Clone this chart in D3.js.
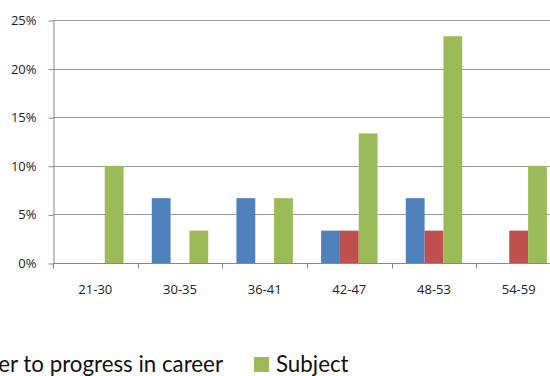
<!DOCTYPE html>
<html>
<head>
<meta charset="utf-8">
<script src="https://cdn.jsdelivr.net/npm/d3@7"></script>
<style>
  html, body { margin: 0; padding: 0; background: #fff; overflow: hidden; }
  svg { display: block; }
</style>
</head>
<body>
<svg id="chart" width="550" height="376"></svg>
<script>
// Age bands along the x axis
const categories = ["21-30", "30-35", "36-41", "42-47", "48-53", "54-59"];
// Series names and shares (percent of respondents)
const seriesNames = ["Career change", "In order to progress in career", "Subject"];
const seriesColors = ["#4F81BD", "#C0504D", "#9BBB59"];
const careerChange = [0, 6.67, 6.67, 3.33, 6.67, 0];
const progressCareer = [0, 0, 0, 3.33, 3.33, 3.33];
const subject = [10, 3.33, 6.67, 13.33, 23.33, 10];
const yTicks = [0, 5, 10, 15, 20, 25];

const series = [careerChange, progressCareer, subject];

const svg = d3.select("#chart");
const margin = { left: 53, top: 20, bottomY: 263 };
const plotRight = 561;
const labelFont = "'Open Sans', 'DejaVu Sans', sans-serif";

const x = d3.scaleBand().domain(categories).range([margin.left, plotRight]).paddingInner(0).paddingOuter(0);
const inner = d3.scaleBand().domain(d3.range(series.length)).range([0, x.bandwidth()])
  .paddingInner(0).paddingOuter(0.75);
const y = d3.scaleLinear().domain([0, 25]).range([margin.bottomY, margin.top]);

// Horizontal gridlines
svg.append("g").selectAll("line").data(yTicks.filter(d => d > 0)).join("line")
  .attr("x1", margin.left).attr("x2", plotRight)
  .attr("y1", d => Math.round(y(d)) + 0.5).attr("y2", d => Math.round(y(d)) + 0.5)
  .attr("stroke", "#9a9a9a").attr("stroke-width", 1);

// Clustered bars, one group per age band
series.forEach((vals, si) => {
  svg.append("g").selectAll("rect")
    .data(vals.map((v, i) => ({ cat: categories[i], v })).filter(d => d.v > 0))
    .join("rect")
    .attr("x", d => x(d.cat) + inner(si))
    .attr("width", inner.bandwidth())
    .attr("y", d => y(d.v))
    .attr("height", d => y(0) - y(d.v))
    .attr("fill", seriesColors[si]);
});

// Y axis
const yAxis = d3.axisLeft(y).tickValues(yTicks).tickFormat(d => d + "%").tickSize(5).tickSizeOuter(0);
const gy = svg.append("g").attr("transform", `translate(${margin.left + 0.5},0)`).call(yAxis);
gy.select(".domain").attr("stroke", "#888");
gy.selectAll(".tick line").attr("stroke", "#888").attr("transform", "translate(0,0.5)");
gy.selectAll(".tick text").attr("x", -17).attr("dy", "0.35em")
  .attr("font-family", labelFont).attr("font-size", 13).attr("fill", "#222");

// X axis with ticks at category boundaries
const gx = svg.append("g").attr("transform", `translate(0,${margin.bottomY + 0.5})`);
gx.append("line").attr("x1", margin.left).attr("x2", plotRight).attr("stroke", "#888");
gx.selectAll("line.tk").data(categories.map(c => x(c)).concat([plotRight])).join("line")
  .attr("class", "tk")
  .attr("x1", d => Math.round(d) + 0.5).attr("x2", d => Math.round(d) + 0.5)
  .attr("y1", 0).attr("y2", 5).attr("stroke", "#888");
gx.selectAll("text").data(categories).join("text")
  .attr("x", d => x(d) + x.bandwidth() / 2)
  .attr("y", 30)
  .attr("text-anchor", "middle")
  .attr("font-family", labelFont).attr("font-size", 13).attr("fill", "#222")
  .text(d => d);

// Legend along the bottom
const legend = svg.append("g").attr("font-family", "Lato, 'Open Sans', sans-serif").attr("font-size", 22.3).attr("fill", "#111");
legend.append("rect").attr("x", -80).attr("y", 357).attr("width", 15).attr("height", 15).attr("fill", seriesColors[1]);
legend.append("text").attr("x", 223).attr("y", 372).attr("text-anchor", "end").text(seriesNames[1]);
legend.append("rect").attr("x", 254).attr("y", 357).attr("width", 15).attr("height", 15).attr("fill", seriesColors[2]);
legend.append("text").attr("x", 276).attr("y", 372).text(seriesNames[2]);
</script>
</body>
</html>
